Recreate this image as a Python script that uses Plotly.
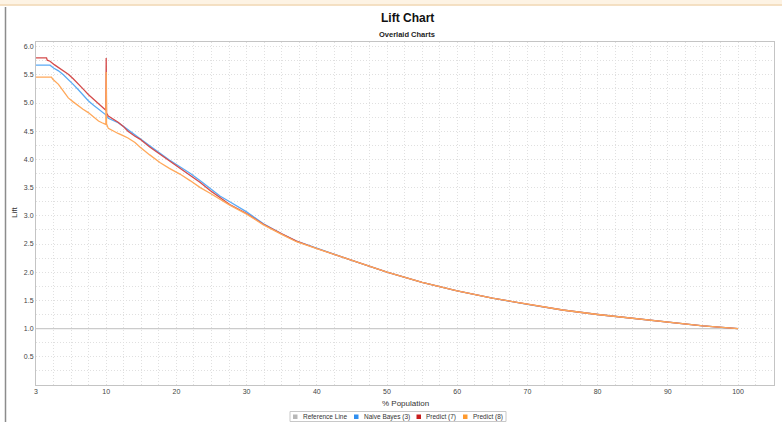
import plotly.graph_objects as go

# ---------------- data ----------------
tail_x = [45, 50, 55, 60, 65, 70, 75, 80, 85, 90, 95, 100]
tail_y = [2.21, 2.00, 1.82, 1.67, 1.54, 1.43, 1.33, 1.25, 1.18, 1.11, 1.05, 1.00]

ref_x = [0, 100]
ref_y = [1.0, 1.0]

nb_x = [0, 2.0, 2.5, 3.2, 3.9, 4.6, 5.3, 6.0, 6.7, 7.45, 8.2, 8.9, 9.4, 9.95,
        10.3, 11.0, 11.7, 12.4, 13.1, 14.1, 14.8, 16.2, 17.7, 19.0, 20.5, 22.0,
        23.4, 24.8, 26.2, 27.6, 30.0, 32.4, 35.0, 37.1, 40.0, 41.9] + tail_x
nb_y = [5.67, 5.67, 5.62, 5.57, 5.50, 5.42, 5.33, 5.24, 5.14, 5.04, 4.96, 4.89, 4.84, 4.79,
        4.73, 4.69, 4.65, 4.59, 4.53, 4.43, 4.37, 4.24, 4.10, 3.99, 3.87, 3.75,
        3.62, 3.48, 3.35, 3.25, 3.07, 2.86, 2.68, 2.55, 2.42, 2.34] + tail_y

p7_x = [0, 1.5, 1.6, 2.0, 2.6, 3.2, 3.9, 4.6, 5.3, 6.0, 6.7, 7.45, 8.2, 8.9, 9.4, 9.95,
        10.0, 10.05, 10.3, 11.0, 11.7, 12.4, 13.1, 14.1, 14.8, 16.2, 17.7, 19.0, 20.5,
        22.0, 23.4, 24.8, 26.2, 27.6, 30.0, 32.4, 35.0, 37.1, 40.0, 41.9] + tail_x
p7_y = [5.80, 5.80, 5.76, 5.74, 5.68, 5.63, 5.57, 5.51, 5.43, 5.33, 5.25, 5.15, 5.07, 4.98, 4.93, 4.87,
        5.80, 4.82, 4.77, 4.72, 4.66, 4.59, 4.50, 4.41, 4.36, 4.22, 4.09, 3.97, 3.85,
        3.72, 3.59, 3.45, 3.32, 3.20, 3.04, 2.85, 2.68, 2.55, 2.42, 2.34] + tail_y

p8_x = [0, 2.2, 2.4, 3.2, 3.9, 4.6, 5.3, 6.0, 6.7, 7.45, 8.2, 8.9, 9.4, 9.95,
        10.0, 10.05, 10.3, 11.0, 11.7, 12.4, 13.1, 14.1, 14.8, 16.2, 17.7, 19.0, 20.5,
        22.0, 23.4, 24.8, 26.2, 27.6, 30.0, 32.4, 35.0, 37.1, 40.0, 41.9] + tail_x
p8_y = [5.46, 5.46, 5.42, 5.33, 5.21, 5.09, 5.02, 4.95, 4.89, 4.83, 4.76, 4.68, 4.65, 4.62,
        5.55, 4.63, 4.55, 4.50, 4.46, 4.42, 4.38, 4.30, 4.22, 4.08, 3.94, 3.84, 3.74,
        3.62, 3.50, 3.40, 3.29, 3.19, 3.03, 2.84, 2.67, 2.54, 2.42, 2.34] + tail_y

x_tickvals = [0, 10, 20, 30, 40, 50, 60, 70, 80, 90, 100]
x_ticktext = ["3", "10", "20", "30", "40", "50", "60", "70", "80", "90", "100"]
y_tickvals = [0.5, 1.0, 1.5, 2.0, 2.5, 3.0, 3.5, 4.0, 4.5, 5.0, 5.5, 6.0]
y_ticktext = ["0.5", "1.0", "1.5", "2.0", "2.5", "3.0", "3.5", "4.0", "4.5", "5.0", "5.5", "6.0"]

series_names = ["Reference Line", "Naive Bayes (3)", "Predict (7)", "Predict (8)"]
line_colors = ["#cbcbcb", "#5aaaf5", "#d44a4a", "#ffa85a"]
legend_colors = ["#b8b8b8", "#2f8ff0", "#c81e1e", "#ff9a2e"]

# ---------------- layout geometry (pixels) ----------------
W, H = 782, 422
L, R, T, B = 36, 774, 42, 385
FONT = "Liberation Sans, Arial, sans-serif"


def px(x):
    return (x - L) / (R - L)


def py(y):
    return (B - y) / (B - T)


fig = go.Figure()
for xs, ys, name, col in [
    (ref_x, ref_y, series_names[0], line_colors[0]),
    (nb_x, nb_y, series_names[1], line_colors[1]),
    (p7_x, p7_y, series_names[2], line_colors[2]),
    (p8_x, p8_y, series_names[3], line_colors[3]),
]:
    fig.add_trace(go.Scatter(x=xs, y=ys, mode="lines", name=name,
                             line=dict(color=col, width=1.3), showlegend=False,
                             hoverinfo="skip"))

grid = "#e0e0e0"
dash = "1px,2px"
fig.update_xaxes(range=[0, (R - L) / 7.02], tickmode="array", tickvals=x_tickvals,
                 ticktext=x_ticktext, showgrid=True, gridcolor=grid, griddash=dash,
                 gridwidth=1, zeroline=False, showline=True, linecolor="#c4c4c4",
                 mirror=True, ticks="", tickfont=dict(size=7, color="#444", family=FONT),
                 minor=dict(tickmode="linear", tick0=0, dtick=2.5, showgrid=True,
                            gridcolor=grid, griddash=dash, ticks=""))
fig.update_yaxes(range=[0, (B - T) / 56.4], tickmode="array", tickvals=y_tickvals,
                 ticktext=y_ticktext, showgrid=True, gridcolor=grid, griddash=dash,
                 gridwidth=1, zeroline=False, showline=True, linecolor="#c4c4c4",
                 mirror=True, ticks="", tickfont=dict(size=7, color="#444", family=FONT),
                 minor=dict(tickmode="linear", tick0=0, dtick=0.25, showgrid=True,
                            gridcolor=grid, griddash=dash, ticks=""))

shapes = [
    # top beige bar
    dict(type="rect", xref="paper", yref="paper", x0=px(0), x1=px(W), y0=py(0), y1=py(4.5),
         fillcolor="#fdf3e4", line=dict(width=0), layer="below"),
    dict(type="line", xref="paper", yref="paper", x0=px(0), x1=px(W), y0=py(5), y1=py(5),
         line=dict(color="#f0d6b0", width=1.5)),
    # left panel border
    dict(type="line", xref="paper", yref="paper", x0=px(5.5), x1=px(5.5), y0=py(7), y1=py(H),
         line=dict(color="#8c8c8c", width=1.5)),
    # legend box
    dict(type="rect", xref="paper", yref="paper", x0=px(290), x1=px(506), y0=py(411.5),
         y1=py(421.5), line=dict(color="#c8c8c8", width=1), fillcolor="white"),
]


def ann(text, x, y, size, color, xanchor="center", angle=0):
    return dict(text=text, x=px(x), y=py(y), xref="paper", yref="paper",
                xanchor=xanchor, yanchor="middle", textangle=angle, showarrow=False,
                font=dict(size=size, color=color, family=FONT))


annotations = [
    ann("<b>Lift Chart</b>", 407, 18.5, 12, "#111"),
    ann("<b>Overlaid Charts</b>", 407, 34.5, 7.5, "#222"),
    ann("% Population", 405, 403.5, 8, "#333"),
    ann("Lift", 15, 213, 8, "#333", angle=-90),
]
sq_x = [293, 354, 416.5, 463]
txt_x = [301, 362, 424, 471]
for i, name in enumerate(series_names):
    shapes.append(dict(type="rect", xref="paper", yref="paper", x0=px(sq_x[i]),
                       x1=px(sq_x[i] + 4.5), y0=py(414.5), y1=py(419),
                       fillcolor=legend_colors[i], line=dict(width=0)))
    annotations.append(ann(name, txt_x[i], 416.8, 6.5, "#333", xanchor="left"))

fig.update_layout(width=W, height=H, margin=dict(l=L, r=W - R, t=T, b=H - B),
                  paper_bgcolor="white", plot_bgcolor="white", shapes=shapes,
                  annotations=annotations, showlegend=False)

fig.write_html("out.html", config={"displayModeBar": False},
               post_script="document.body.style.margin='0';document.body.style.overflow='hidden';")
